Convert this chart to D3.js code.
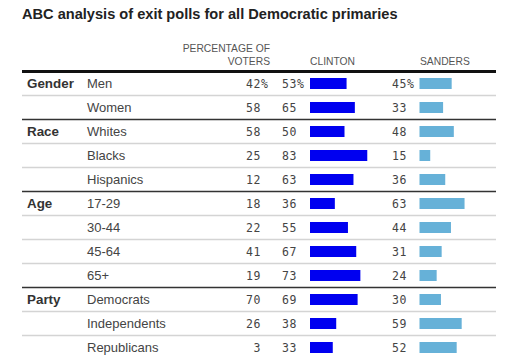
<!DOCTYPE html>
<html>
<head>
<meta charset="utf-8">
<script src="https://cdn.jsdelivr.net/npm/d3@7"></script>
<style>
  body { margin: 0; background: #fff; }
  svg { display: block; }
  .title { font-family: "Liberation Sans", Arial, sans-serif; font-weight: bold; font-size: 14.6px; fill: #222; }
  .head { font-family: "Liberation Sans", Arial, sans-serif; font-size: 10.3px; fill: #555; }
  .group { font-family: "Liberation Sans", Arial, sans-serif; font-weight: bold; font-size: 13.4px; fill: #333; }
  .sub { font-family: "Liberation Sans", Arial, sans-serif; font-size: 13px; fill: #444; }
  .num { font-family: "DejaVu Sans Mono", monospace; font-size: 11.5px; fill: #444; letter-spacing: 0.6px; }
</style>
</head>
<body>
<svg id="chart" width="510" height="359"></svg>
<script>
var groups = ["Gender", "", "Race", "", "", "Age", "", "", "", "Party", "", ""];
var subgroups = ["Men", "Women", "Whites", "Blacks", "Hispanics", "17-29", "30-44", "45-64", "65+", "Democrats", "Independents", "Republicans"];
var voters = [42, 58, 58, 25, 12, 18, 22, 41, 19, 70, 26, 3];
var clinton = [53, 65, 50, 83, 63, 36, 55, 67, 73, 69, 38, 33];
var sanders = [45, 33, 48, 15, 36, 63, 44, 31, 24, 30, 59, 52];

var clintonColor = "#0000f0";
var sandersColor = "#66b1d8";

var svg = d3.select("#chart");
var left = 22, right = 496;
var top0 = 71.5, rowH = 24;

var y = d3.scaleBand()
  .domain(d3.range(subgroups.length))
  .range([top0, top0 + rowH * subgroups.length]);

var xClinton = d3.scaleLinear().domain([0, 100]).range([310, 379]);
var xSanders = d3.scaleLinear().domain([0, 100]).range([419.5, 491]);

svg.append("text").attr("class", "title")
  .attr("x", left).attr("y", 19)
  .text("ABC analysis of exit polls for all Democratic primaries");

// column headers
svg.append("text").attr("class", "head").attr("x", 270).attr("y", 52).attr("text-anchor", "end").text("PERCENTAGE OF");
svg.append("text").attr("class", "head").attr("x", 270).attr("y", 65).attr("text-anchor", "end").text("VOTERS");
svg.append("text").attr("class", "head").attr("x", 310).attr("y", 65).text("CLINTON");
svg.append("text").attr("class", "head").attr("x", 420).attr("y", 65).text("SANDERS");

// row separators
var seps = d3.range(1, subgroups.length);
svg.selectAll("line.sep")
  .data(seps)
  .join("line")
  .classed("sep", true)
  .attr("x1", left).attr("x2", right)
  .attr("y1", d => y(d)).attr("y2", d => y(d))
  .attr("stroke", d => groups[d] ? "#333" : "#d4d4d4")
  .attr("stroke-width", 1.5);

svg.append("line")
  .attr("x1", left).attr("x2", right)
  .attr("y1", top0).attr("y2", top0)
  .attr("stroke", "#111").attr("stroke-width", 3);

var rows = svg.selectAll("g.row")
  .data(subgroups)
  .join("g")
  .classed("row", true)
  .attr("transform", (d, i) => "translate(0," + (y(i) + y.bandwidth() / 2) + ")");

rows.append("text").attr("class", "group")
  .attr("x", 27).attr("dy", "0.35em")
  .text((d, i) => groups[i]);

rows.append("text").attr("class", "sub")
  .attr("x", 87).attr("dy", "0.35em")
  .text(d => d);

rows.append("text").attr("class", "num")
  .attr("x", 261).attr("dy", "0.35em").attr("text-anchor", "end")
  .text((d, i) => voters[i]);
rows.filter((d, i) => i === 0).append("text").attr("class", "num")
  .attr("x", 261).attr("dy", "0.35em").text("%");

rows.append("text").attr("class", "num")
  .attr("x", 282).attr("dy", "0.35em")
  .text((d, i) => clinton[i] + (i === 0 ? "%" : ""));

rows.append("rect")
  .attr("x", xClinton(0)).attr("y", -5.5).attr("height", 11)
  .attr("width", (d, i) => xClinton(clinton[i]) - xClinton(0))
  .attr("fill", clintonColor);

rows.append("text").attr("class", "num")
  .attr("x", 392).attr("dy", "0.35em")
  .text((d, i) => sanders[i] + (i === 0 ? "%" : ""));

rows.append("rect")
  .attr("x", xSanders(0)).attr("y", -5.5).attr("height", 11)
  .attr("width", (d, i) => xSanders(sanders[i]) - xSanders(0))
  .attr("fill", sandersColor);
</script>
</body>
</html>
